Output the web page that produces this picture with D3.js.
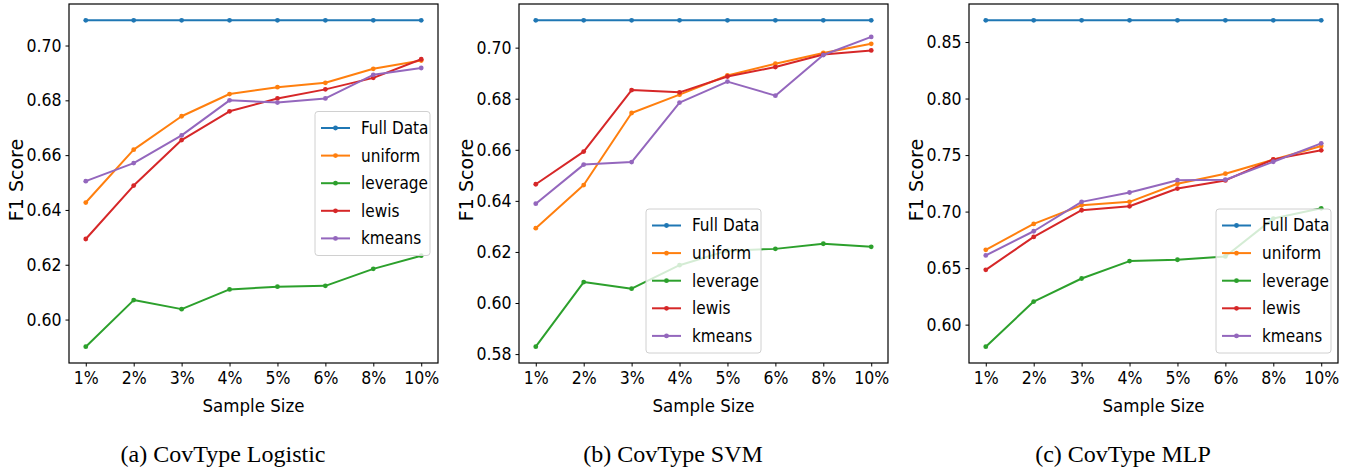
<!DOCTYPE html>
<html>
<head>
<meta charset="utf-8">
<script src="https://cdn.jsdelivr.net/npm/d3@7"></script>
<style>
  body { margin: 0; background: #fff; }
  .tick-label { font-family: "DejaVu Sans Condensed", "DejaVu Sans", sans-serif; font-size: 17.5px; }
  .axis-title { font-family: "DejaVu Sans Condensed", "DejaVu Sans", sans-serif; font-size: 18.5px; }
  .y-title { font-family: "DejaVu Sans", sans-serif; font-size: 19px; }
  .legend-label { font-family: "DejaVu Sans Condensed", "DejaVu Sans", sans-serif; font-size: 17px; }
  .caption { font-family: "Liberation Serif", "Times New Roman", serif; font-size: 24px; }
</style>
</head>
<body>
<div id="chart"></div>
<script>
var sizes = ["1%", "2%", "3%", "4%", "5%", "6%", "8%", "10%"];
var methods = ["Full Data", "uniform", "leverage", "lewis", "kmeans"];
var colors = ["#1f77b4", "#ff7f0e", "#2ca02c", "#d62728", "#9467bd"];

// CovType Logistic
var logFull     = [0.7092, 0.7092, 0.7092, 0.7092, 0.7092, 0.7092, 0.7092, 0.7092];
var logUniform  = [0.6427, 0.6620, 0.6742, 0.6823, 0.6848, 0.6864, 0.6915, 0.6945];
var logLeverage = [0.5901, 0.6071, 0.6038, 0.6110, 0.6120, 0.6123, 0.6185, 0.6233];
var logLewis    = [0.6294, 0.6489, 0.6655, 0.6760, 0.6807, 0.6840, 0.6882, 0.6950];
var logKmeans   = [0.6505, 0.6571, 0.6672, 0.6800, 0.6792, 0.6807, 0.6893, 0.6918];
var logTicks    = [0.60, 0.62, 0.64, 0.66, 0.68, 0.70];

// CovType SVM
var svmFull     = [0.7107, 0.7107, 0.7107, 0.7107, 0.7107, 0.7107, 0.7107, 0.7107];
var svmUniform  = [0.6293, 0.6462, 0.6744, 0.6816, 0.6891, 0.6937, 0.6979, 0.7015];
var svmLeverage = [0.5829, 0.6082, 0.6056, 0.6148, 0.6205, 0.6212, 0.6232, 0.6220];
var svmLewis    = [0.6465, 0.6593, 0.6834, 0.6825, 0.6887, 0.6924, 0.6973, 0.6989];
var svmKmeans   = [0.6389, 0.6542, 0.6552, 0.6785, 0.6867, 0.6812, 0.6971, 0.7042];
var svmTicks    = [0.58, 0.60, 0.62, 0.64, 0.66, 0.68, 0.70];

// CovType MLP
var mlpFull     = [0.8692, 0.8692, 0.8692, 0.8692, 0.8692, 0.8692, 0.8692, 0.8692];
var mlpUniform  = [0.6662, 0.6891, 0.7056, 0.7086, 0.7246, 0.7335, 0.7459, 0.7580];
var mlpLeverage = [0.5805, 0.6204, 0.6408, 0.6562, 0.6574, 0.6603, 0.6938, 0.7029];
var mlpLewis    = [0.6485, 0.6776, 0.7012, 0.7047, 0.7204, 0.7276, 0.7462, 0.7542];
var mlpKmeans   = [0.6612, 0.6826, 0.7086, 0.7169, 0.7278, 0.7282, 0.7441, 0.7604];
var mlpTicks    = [0.60, 0.65, 0.70, 0.75, 0.80, 0.85];

var panels = [
  {caption: "(a) CovType Logistic", series: [logFull, logUniform, logLeverage, logLewis, logKmeans], ticks: logTicks, x0: 0, legend: "right"},
  {caption: "(b) CovType SVM", series: [svmFull, svmUniform, svmLeverage, svmLewis, svmKmeans], ticks: svmTicks, x0: 450, legend: "lower"},
  {caption: "(c) CovType MLP", series: [mlpFull, mlpUniform, mlpLeverage, mlpLewis, mlpKmeans], ticks: mlpTicks, x0: 900, legend: "lowerright"}
];

var width = 1351;
var height = 474;

var svg = d3.select("#chart")
  .append("svg")
  .attr("width", width)
  .attr("height", height);

panels.forEach(drawPanel);

function drawPanel(p) {
  var left = 69, right = 438, top = 4, bottom = 363;
  var g = svg.append("g").attr("transform", "translate(" + p.x0 + ",0)");

  var x = d3.scalePoint()
    .domain(sizes)
    .range([left, right])
    .padding(0.35);

  var all = d3.merge(p.series);
  var lo = d3.min(all), hi = d3.max(all);
  var pad = (hi - lo) * 0.05;
  var y = d3.scaleLinear()
    .domain([lo - pad, hi + pad])
    .range([bottom, top]);

  var line = d3.line()
    .x(function(d, i) { return x(sizes[i]); })
    .y(function(d) { return y(d); });

  p.series.forEach(function(s, k) {
    g.append("path")
      .attr("d", line(s))
      .attr("fill", "none")
      .attr("stroke", colors[k])
      .attr("stroke-width", 2)
      .attr("stroke-linejoin", "round");
    g.selectAll(null)
      .data(s)
      .enter()
      .append("circle")
      .attr("cx", function(d, i) { return x(sizes[i]); })
      .attr("cy", function(d) { return y(d); })
      .attr("r", 2.4)
      .attr("fill", colors[k]);
  });

  // axes
  var xAxis = g.append("g")
    .attr("transform", "translate(0," + bottom + ")")
    .call(d3.axisBottom(x).tickSize(3.5).tickPadding(5));
  var yAxis = g.append("g")
    .attr("transform", "translate(" + left + ",0)")
    .call(d3.axisLeft(y).tickValues(p.ticks).tickFormat(d3.format(".2f")).tickSize(3.5).tickPadding(4));
  [xAxis, yAxis].forEach(function(a) {
    a.select(".domain").remove();
    a.selectAll("line").attr("stroke", "#000").attr("stroke-width", 1);
    a.selectAll("text").attr("class", "tick-label").attr("fill", "#000");
  });

  g.append("rect")
    .attr("x", left)
    .attr("y", top)
    .attr("width", right - left)
    .attr("height", bottom - top)
    .attr("fill", "none")
    .attr("stroke", "#000")
    .attr("stroke-width", 1.2);

  g.append("text")
    .attr("class", "axis-title")
    .attr("x", (left + right) / 2)
    .attr("y", 412)
    .attr("text-anchor", "middle")
    .text("Sample Size");

  g.append("text")
    .attr("class", "y-title")
    .attr("transform", "translate(23," + 180 + ") rotate(-90)")
    .attr("text-anchor", "middle")
    .text("F1 Score");

  g.append("text")
    .attr("class", "caption")
    .attr("x", 223)
    .attr("y", 462)
    .attr("text-anchor", "middle")
    .text(p.caption);

  // legend
  var lw = 115, lh = 144;
  var lx, ly;
  if (p.legend === "right") { lx = right - 8 - lw; ly = (top + bottom) / 2 - lh / 2; }
  else if (p.legend === "lower") { lx = (left + right) / 2 - lw / 2; ly = bottom - 10 - lh; }
  else { lx = right - 7 - lw; ly = bottom - 10 - lh; }

  var leg = g.append("g").attr("transform", "translate(" + lx + "," + ly + ")");
  leg.append("rect")
    .attr("width", lw)
    .attr("height", lh)
    .attr("rx", 3)
    .attr("fill", "#fff")
    .attr("fill-opacity", 0.8)
    .attr("stroke", "#d0d0d0")
    .attr("stroke-width", 1);

  var rows = leg.selectAll("g.row")
    .data(methods)
    .enter()
    .append("g")
    .attr("class", "row")
    .attr("transform", function(d, i) { return "translate(0," + (16.5 + i * 27.6) + ")"; });
  rows.append("line")
    .attr("x1", 6).attr("x2", 35)
    .attr("stroke", function(d, i) { return colors[i]; })
    .attr("stroke-width", 2);
  rows.append("circle")
    .attr("cx", 20.5)
    .attr("r", 2.4)
    .attr("fill", function(d, i) { return colors[i]; });
  rows.append("text")
    .attr("class", "legend-label")
    .attr("x", 46)
    .attr("dy", "0.35em")
    .text(function(d) { return d; });
}
</script>
</body>
</html>
